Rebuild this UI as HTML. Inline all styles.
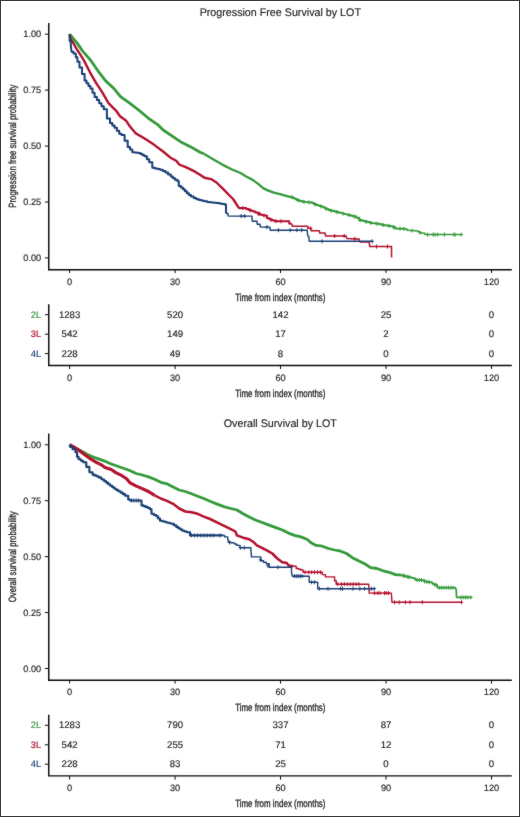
<!DOCTYPE html>
<html><head><meta charset="utf-8"><title>Survival by LOT</title>
<style>html,body{margin:0;padding:0;background:#fff;}svg{display:block;}text{font-family:"Liberation Sans",sans-serif;text-rendering:geometricPrecision;}svg{will-change:transform;}</style>
</head><body>
<svg width="520" height="817" viewBox="0 0 520 817">
<defs><filter id="soft" x="0" y="0" width="520" height="817" filterUnits="userSpaceOnUse" color-interpolation-filters="sRGB"><feConvolveMatrix order="3" kernelMatrix="1 1 1 1 24 1 1 1 1" divisor="32" edgeMode="duplicate"/></filter></defs>
<g filter="url(#soft)">
<rect x="0" y="0" width="520" height="817" fill="#fff"/>
<text x="280.3" y="16.4" font-size="11" text-anchor="middle" fill="#222" textLength="161.3" lengthAdjust="spacingAndGlyphs" stroke="#222" stroke-width="0.15">Progression Free Survival by LOT</text>
<path d="M48.75,23 V269.70 H511.8" fill="none" stroke="#0a0a0a" stroke-width="1.45"/>
<path d="M44.9,34.2 H48.6" stroke="#0a0a0a" stroke-width="1"/>
<text x="41.2" y="37.3" font-size="9.2" text-anchor="end" fill="#222"  stroke="#222" stroke-width="0.15">1.00</text>
<path d="M44.9,90.1 H48.6" stroke="#0a0a0a" stroke-width="1"/>
<text x="41.2" y="93.2" font-size="9.2" text-anchor="end" fill="#222"  stroke="#222" stroke-width="0.15">0.75</text>
<path d="M44.9,146.1 H48.6" stroke="#0a0a0a" stroke-width="1"/>
<text x="41.2" y="149.2" font-size="9.2" text-anchor="end" fill="#222"  stroke="#222" stroke-width="0.15">0.50</text>
<path d="M44.9,202.0 H48.6" stroke="#0a0a0a" stroke-width="1"/>
<text x="41.2" y="205.1" font-size="9.2" text-anchor="end" fill="#222"  stroke="#222" stroke-width="0.15">0.25</text>
<path d="M44.9,257.9 H48.6" stroke="#0a0a0a" stroke-width="1"/>
<text x="41.2" y="261.0" font-size="9.2" text-anchor="end" fill="#222"  stroke="#222" stroke-width="0.15">0.00</text>
<path d="M69.6,269.4 V273" stroke="#0a0a0a" stroke-width="1"/>
<text x="69.6" y="284.5" font-size="9.2" text-anchor="middle" fill="#222"  stroke="#222" stroke-width="0.15">0</text>
<path d="M175.1,269.4 V273" stroke="#0a0a0a" stroke-width="1"/>
<text x="175.1" y="284.5" font-size="9.2" text-anchor="middle" fill="#222"  stroke="#222" stroke-width="0.15">30</text>
<path d="M280.5,269.4 V273" stroke="#0a0a0a" stroke-width="1"/>
<text x="280.5" y="284.5" font-size="9.2" text-anchor="middle" fill="#222"  stroke="#222" stroke-width="0.15">60</text>
<path d="M386.0,269.4 V273" stroke="#0a0a0a" stroke-width="1"/>
<text x="386.0" y="284.5" font-size="9.2" text-anchor="middle" fill="#222"  stroke="#222" stroke-width="0.15">90</text>
<path d="M491.5,269.4 V273" stroke="#0a0a0a" stroke-width="1"/>
<text x="491.5" y="284.5" font-size="9.2" text-anchor="middle" fill="#222"  stroke="#222" stroke-width="0.15">120</text>
<text x="280.3" y="300.6" font-size="10.5" text-anchor="middle" fill="#222" textLength="90.3" lengthAdjust="spacingAndGlyphs" stroke="#222" stroke-width="0.3">Time from index (months)</text>
<text transform="translate(15.8,146.2) rotate(-90)" font-size="10.5" text-anchor="middle" fill="#222" stroke="#222" stroke-width="0.3" textLength="123" lengthAdjust="spacingAndGlyphs">Progression free survival probability</text>
<polyline points="69.6,34.2 72.8,38.0 77.4,43.4 82.0,50.3 86.6,55.7 91.2,61.0 97.7,70.5 105.4,80.6 113.1,87.7 120.8,96.9 130.0,103.3 139.2,110.5 148.5,118.3 157.7,124.6 163.1,130.0 172.3,136.2 181.5,142.3 190.8,146.9 200.0,152.3 203.8,153.8" fill="none" stroke="#349a3a" stroke-width="2.8" stroke-linejoin="round"/>
<polyline points="203.8,153.8 213.1,159.2 222.3,164.6 231.5,169.2 240.5,173.0 246.2,176.5 252.3,179.6 258.5,184.2 263.1,188.1 267.7,190.4 273.8,192.7 280.0,194.2 286.2,195.8 292.3,197.3 298.5,200.4 304.6,201.9" fill="none" stroke="#349a3a" stroke-width="2.3" stroke-linejoin="round"/>
<polyline points="304.6,201.9 310.5,202.5 312.5,202.5 312.5,203.3 314.5,203.3 314.5,204.2 316.5,204.2 316.5,205.0 318.4,205.0 318.4,205.6 320.4,205.6 320.4,206.3 322.3,206.3 322.3,206.9 324.4,206.9 324.4,207.9 326.4,207.9 326.4,209.0 328.5,209.0 328.5,210.0 330.5,210.0 330.5,210.5 332.6,210.5 332.6,211.0 334.6,211.0 334.6,211.5 336.7,211.5 336.7,212.0 338.7,212.0 338.7,212.6 340.8,212.6 340.8,213.1 342.8,213.1 342.8,213.6 344.9,213.6 344.9,214.1 346.9,214.1 346.9,214.6 349.0,214.6 349.0,215.1 351.0,215.1 351.0,215.7 353.1,215.7 353.1,216.2 356.2,216.2 356.2,217.7 359.2,217.7 359.2,220.0 361.3,220.0 361.3,220.5 363.3,220.5 363.3,221.0 365.4,221.0 365.4,221.5 367.4,221.5 367.4,222.0 369.5,222.0 369.5,222.6 371.5,222.6 371.5,223.1 373.6,223.1 373.6,223.3 375.6,223.3 375.6,223.6 377.7,223.6 377.7,223.8 379.7,223.8 379.7,224.3 381.8,224.3 381.8,224.7 383.8,224.7 383.8,225.2 386.3,225.2 386.3,225.5 388.7,225.5 388.7,225.9 391.2,225.9 391.2,226.2 393.4,226.2 393.4,227.3 395.6,227.3 395.6,228.5 405.1,228.8" fill="none" stroke="#349a3a" stroke-width="1.9" stroke-linejoin="round"/>
<polyline points="405.1,228.8 406.8,228.8 406.8,230.2 409.2,230.2 409.2,230.4 411.6,230.4 411.6,230.6 413.9,230.6 413.9,230.7 416.3,230.7 416.3,230.9 418.1,230.9 418.1,231.8 419.8,231.8 419.8,232.6 423.3,233.2 425.0,233.2 425.0,234.6 461.3,234.6" fill="none" stroke="#349a3a" stroke-width="1.5" stroke-linejoin="round"/>
<polyline points="69.6,34.2 70.5,38.8 73.5,43.4 76.6,48.8 80.5,54.9 84.3,61.1 87.4,67.2 90.0,72.3 96.2,83.1 102.3,92.3 108.5,103.1 116.2,110.8 120.0,116.2 126.2,120.8 129.2,125.4 135.4,133.1 144.6,138.5 153.8,144.6 163.1,151.5 170.5,157.7 176.2,160.8 179.2,164.5 186.9,167.7 195.0,171.7 200.4,175.1 204.4,177.8 211.1,179.1 216.5,182.5 223.3,189.2 230.0,196.0 233.1,199.0 237.7,206.2 239.2,208.1 243.8,208.1" fill="none" stroke="#b3102e" stroke-width="2.4" stroke-linejoin="round"/>
<polyline points="243.8,208.1 246.2,208.1 246.2,208.9 248.5,208.9 248.5,209.8 250.8,209.8 250.8,210.7 253.1,210.7 253.1,211.5 255.4,211.5 255.4,212.4 257.7,212.4 257.7,213.3 260.0,213.3 260.0,214.8 262.3,214.8 262.3,215.2 264.6,215.2 264.6,215.6 266.9,215.6 266.9,217.9 268.6,217.9 268.6,218.8 270.4,218.8 270.4,219.6 272.1,219.6 272.1,220.2 273.8,220.2 273.8,220.8 277.3,221.3 286.5,221.3 289.2,221.3 289.2,223.5 291.9,224.0" fill="none" stroke="#b3102e" stroke-width="2.0" stroke-linejoin="round"/>
<polyline points="291.9,224.0 292.4,226.3 306.8,226.3 307.8,226.3 307.8,228.3 310.7,228.3 311.2,230.7 319.3,230.7 319.8,233.1 325.1,233.1 325.6,236.0 346.2,236.0 346.9,238.5 356.2,238.9 359.2,238.9 359.2,240.0 360.0,242.0 369.2,242.0 369.7,246.6 391.5,246.6 391.6,257.4" fill="none" stroke="#b3102e" stroke-width="1.5" stroke-linejoin="round"/>
<polyline points="69.6,34.2 69.7,41.1 70.8,41.1 70.8,45.7 71.6,51.8 73.5,51.8 73.5,53.4 75.8,53.4 75.8,57.2 77.4,57.2 77.4,61.8 79.5,61.8 79.5,67.5 82.0,67.5 82.0,74.0 84.6,74.0 84.6,80.5 86.5,80.5 86.5,83.2 88.5,83.2 88.5,85.9 90.4,85.9 90.4,88.6 92.5,88.6 92.5,92.8 94.6,92.8 94.6,96.9 96.9,96.9 96.9,100.1 99.2,100.1 99.2,103.3 101.5,103.3 101.5,106.2 103.8,106.2 103.8,109.2 106.9,109.2 106.9,118.5 110.0,118.5 110.0,123.1 112.3,123.1 112.3,125.4 114.6,125.4 114.6,127.7 116.9,127.7 116.9,130.8 119.2,130.8 119.2,133.8 121.5,133.8 121.5,135.0 124.6,135.0 124.6,140.8 127.7,140.8 127.7,146.9 130.0,146.9 130.0,149.6 132.3,149.6 132.3,152.3 134.4,152.3 134.4,152.6 136.4,152.6 136.4,152.8 138.5,152.8 138.5,153.1 140.5,153.1 140.5,154.1 142.6,154.1 142.6,155.2 144.6,155.2 144.6,156.2 146.9,156.2 146.9,159.2 149.2,159.2 149.2,162.3 152.3,162.3 152.3,167.7 154.9,167.7 154.9,168.4 157.4,168.4 157.4,169.0 160.0,169.0 160.0,169.7 162.7,169.7 162.7,171.1 165.4,171.1 165.4,172.4 168.1,172.4 168.1,174.4 170.8,174.4 170.8,176.4 172.8,176.4 172.8,178.1 174.8,178.1 174.8,179.8 177.5,179.8 177.5,181.2 178.8,181.2 178.8,185.9 180.9,185.9 180.9,187.6 182.9,187.6 182.9,189.2 184.9,189.2 184.9,191.2 186.9,191.2 186.9,193.3 188.9,193.3 188.9,194.9 191.0,194.9 191.0,196.6 193.7,196.6 193.7,197.9 196.3,197.9 196.3,199.3 199.0,199.3 199.0,200.0 201.7,200.0 201.7,200.7 204.4,200.7 204.4,201.3 207.1,201.3 207.1,202.0 209.3,202.0 209.3,202.2 211.6,202.2 211.6,202.5 213.8,202.5 213.8,202.7 216.5,202.7 216.5,203.1 219.2,203.1 219.2,203.4 221.9,203.4 221.9,203.9 224.6,203.9 224.6,204.4 226.0,204.4 226.0,213.5" fill="none" stroke="#183f75" stroke-width="2.0" stroke-linejoin="round"/>
<polyline points="226.0,213.5 228.0,213.5 228.0,215.9 230.0,216.1 251.9,216.1 252.3,221.3 256.0,221.3 257.1,221.3 257.1,224.2 260.0,224.2 260.5,227.1 269.8,227.1 270.2,230.2 306.3,230.2 307.3,230.2 307.3,232.1 307.8,236.0 308.8,236.4 309.2,241.3 372.5,241.3" fill="none" stroke="#183f75" stroke-width="1.4" stroke-linejoin="round"/>
<path d="M292.0,195.2V199.2M290.2,197.2H293.8M298.0,198.2V202.2M296.2,200.2H299.8M304.0,199.8V203.8M302.2,201.8H305.8M309.0,200.3V204.3M307.2,202.3H310.8M315.0,202.4V206.4M313.2,204.4H316.8M321.0,204.5V208.5M319.2,206.5H322.8M326.0,206.8V210.8M324.2,208.8H327.8M331.0,208.6V212.6M329.2,210.6H332.8M337.0,210.1V214.1M335.2,212.1H338.8M343.0,211.6V215.6M341.2,213.6H344.8M349.0,213.1V217.1M347.2,215.1H350.8M354.0,214.6V218.6M352.2,216.6H355.8M360.0,218.2V222.2M358.2,220.2H361.8M366.0,219.7V223.7M364.2,221.7H367.8M371.0,221.0V225.0M369.2,223.0H372.8M377.0,221.7V225.7M375.2,223.7H378.8M383.0,223.0V227.0M381.2,225.0H384.8M389.0,223.9V227.9M387.2,225.9H390.8M394.0,225.7V229.7M392.2,227.7H395.8M400.0,226.6V230.6M398.2,228.6H401.8M404.0,226.8V230.8M402.2,228.8H405.8M412.1,228.6V232.6M410.3,230.6H413.9M420.2,230.7V234.7M418.4,232.7H422.0M427.6,232.6V236.6M425.8,234.6H429.4M433.0,232.6V236.6M431.2,234.6H434.8M435.0,232.6V236.6M433.2,234.6H436.8M437.7,232.6V236.6M435.9,234.6H439.5M444.4,232.6V236.6M442.6,234.6H446.2M453.8,232.6V236.6M452.0,234.6H455.6M455.2,232.6V236.6M453.4,234.6H457.0M461.2,232.6V236.6M459.4,234.6H463.0" fill="none" stroke="#349a3a" stroke-width="1.0"/>
<path d="M243.0,206.1V210.1M241.2,208.1H244.8M250.0,208.4V212.4M248.2,210.4H251.8M258.5,211.8V215.8M256.7,213.8H260.3M264.0,213.5V217.5M262.2,215.5H265.8M271.0,217.8V221.8M269.2,219.8H272.8M275.8,219.1V223.1M274.0,221.1H277.6M281.0,219.3V223.3M279.2,221.3H282.8M310.6,226.3V230.3M308.8,228.3H312.4M334.6,234.0V238.0M332.8,236.0H336.4M344.2,234.0V238.0M342.4,236.0H346.0M354.8,236.8V240.8M353.0,238.8H356.6M376.5,244.6V248.6M374.7,246.6H378.3M387.5,244.6V248.6M385.7,246.6H389.3" fill="none" stroke="#b3102e" stroke-width="1.0"/>
<path d="M241.2,214.1V218.1M239.4,216.1H243.0M244.6,214.1V218.1M242.8,216.1H246.4M266.9,225.1V229.1M265.1,227.1H268.7M278.4,228.2V232.2M276.6,230.2H280.2M290.2,228.2V232.2M288.4,230.2H292.0M296.9,228.2V232.2M295.1,230.2H298.7M301.7,228.2V232.2M299.9,230.2H303.5M322.1,239.3V243.3M320.3,241.3H323.9M372.1,239.3V243.3M370.3,241.3H373.9" fill="none" stroke="#183f75" stroke-width="1.0"/>
<path d="M48.75,304.2 V365.45 H511.8" fill="none" stroke="#0a0a0a" stroke-width="1.45"/>
<path d="M44.9,314.7 H48.6" stroke="#0a0a0a" stroke-width="1"/>
<text x="41.2" y="317.7" font-size="9.4" text-anchor="end" fill="#349a3a"  stroke="#349a3a" stroke-width="0.15">2L</text>
<text x="69.6" y="317.6" font-size="9.6" text-anchor="middle" fill="#222"  stroke="#222" stroke-width="0.15">1283</text>
<text x="175.1" y="317.6" font-size="9.6" text-anchor="middle" fill="#222"  stroke="#222" stroke-width="0.15">520</text>
<text x="280.5" y="317.6" font-size="9.6" text-anchor="middle" fill="#222"  stroke="#222" stroke-width="0.15">142</text>
<text x="386.0" y="317.6" font-size="9.6" text-anchor="middle" fill="#222"  stroke="#222" stroke-width="0.15">25</text>
<text x="491.5" y="317.6" font-size="9.6" text-anchor="middle" fill="#222"  stroke="#222" stroke-width="0.15">0</text>
<path d="M44.9,334.2 H48.6" stroke="#0a0a0a" stroke-width="1"/>
<text x="41.2" y="337.2" font-size="9.4" text-anchor="end" fill="#b3102e"  stroke="#b3102e" stroke-width="0.15">3L</text>
<text x="69.6" y="337.1" font-size="9.6" text-anchor="middle" fill="#222"  stroke="#222" stroke-width="0.15">542</text>
<text x="175.1" y="337.1" font-size="9.6" text-anchor="middle" fill="#222"  stroke="#222" stroke-width="0.15">149</text>
<text x="280.5" y="337.1" font-size="9.6" text-anchor="middle" fill="#222"  stroke="#222" stroke-width="0.15">17</text>
<text x="386.0" y="337.1" font-size="9.6" text-anchor="middle" fill="#222"  stroke="#222" stroke-width="0.15">2</text>
<text x="491.5" y="337.1" font-size="9.6" text-anchor="middle" fill="#222"  stroke="#222" stroke-width="0.15">0</text>
<path d="M44.9,353.6 H48.6" stroke="#0a0a0a" stroke-width="1"/>
<text x="41.2" y="356.6" font-size="9.4" text-anchor="end" fill="#183f75"  stroke="#183f75" stroke-width="0.15">4L</text>
<text x="69.6" y="356.5" font-size="9.6" text-anchor="middle" fill="#222"  stroke="#222" stroke-width="0.15">228</text>
<text x="175.1" y="356.5" font-size="9.6" text-anchor="middle" fill="#222"  stroke="#222" stroke-width="0.15">49</text>
<text x="280.5" y="356.5" font-size="9.6" text-anchor="middle" fill="#222"  stroke="#222" stroke-width="0.15">8</text>
<text x="386.0" y="356.5" font-size="9.6" text-anchor="middle" fill="#222"  stroke="#222" stroke-width="0.15">0</text>
<text x="491.5" y="356.5" font-size="9.6" text-anchor="middle" fill="#222"  stroke="#222" stroke-width="0.15">0</text>
<path d="M69.6,365.5 V369" stroke="#0a0a0a" stroke-width="1"/>
<text x="69.6" y="380.7" font-size="9.2" text-anchor="middle" fill="#222"  stroke="#222" stroke-width="0.15">0</text>
<path d="M175.1,365.5 V369" stroke="#0a0a0a" stroke-width="1"/>
<text x="175.1" y="380.7" font-size="9.2" text-anchor="middle" fill="#222"  stroke="#222" stroke-width="0.15">30</text>
<path d="M280.5,365.5 V369" stroke="#0a0a0a" stroke-width="1"/>
<text x="280.5" y="380.7" font-size="9.2" text-anchor="middle" fill="#222"  stroke="#222" stroke-width="0.15">60</text>
<path d="M386.0,365.5 V369" stroke="#0a0a0a" stroke-width="1"/>
<text x="386.0" y="380.7" font-size="9.2" text-anchor="middle" fill="#222"  stroke="#222" stroke-width="0.15">90</text>
<path d="M491.5,365.5 V369" stroke="#0a0a0a" stroke-width="1"/>
<text x="491.5" y="380.7" font-size="9.2" text-anchor="middle" fill="#222"  stroke="#222" stroke-width="0.15">120</text>
<text x="280.3" y="396.7" font-size="10.5" text-anchor="middle" fill="#222" textLength="90.3" lengthAdjust="spacingAndGlyphs" stroke="#222" stroke-width="0.3">Time from index (months)</text>
<text x="280.3" y="427.0" font-size="11" text-anchor="middle" fill="#222" textLength="113" lengthAdjust="spacingAndGlyphs" stroke="#222" stroke-width="0.15">Overall Survival by LOT</text>
<path d="M48.75,433.6 V680.25 H511.8" fill="none" stroke="#0a0a0a" stroke-width="1.45"/>
<path d="M44.9,444.8 H48.6" stroke="#0a0a0a" stroke-width="1"/>
<text x="41.2" y="447.9" font-size="9.2" text-anchor="end" fill="#222"  stroke="#222" stroke-width="0.15">1.00</text>
<path d="M44.9,500.7 H48.6" stroke="#0a0a0a" stroke-width="1"/>
<text x="41.2" y="503.8" font-size="9.2" text-anchor="end" fill="#222"  stroke="#222" stroke-width="0.15">0.75</text>
<path d="M44.9,556.7 H48.6" stroke="#0a0a0a" stroke-width="1"/>
<text x="41.2" y="559.8" font-size="9.2" text-anchor="end" fill="#222"  stroke="#222" stroke-width="0.15">0.50</text>
<path d="M44.9,612.6 H48.6" stroke="#0a0a0a" stroke-width="1"/>
<text x="41.2" y="615.7" font-size="9.2" text-anchor="end" fill="#222"  stroke="#222" stroke-width="0.15">0.25</text>
<path d="M44.9,668.5 H48.6" stroke="#0a0a0a" stroke-width="1"/>
<text x="41.2" y="671.6" font-size="9.2" text-anchor="end" fill="#222"  stroke="#222" stroke-width="0.15">0.00</text>
<path d="M69.6,680.0 V683.6" stroke="#0a0a0a" stroke-width="1"/>
<text x="69.6" y="695.1" font-size="9.2" text-anchor="middle" fill="#222"  stroke="#222" stroke-width="0.15">0</text>
<path d="M175.1,680.0 V683.6" stroke="#0a0a0a" stroke-width="1"/>
<text x="175.1" y="695.1" font-size="9.2" text-anchor="middle" fill="#222"  stroke="#222" stroke-width="0.15">30</text>
<path d="M280.5,680.0 V683.6" stroke="#0a0a0a" stroke-width="1"/>
<text x="280.5" y="695.1" font-size="9.2" text-anchor="middle" fill="#222"  stroke="#222" stroke-width="0.15">60</text>
<path d="M386.0,680.0 V683.6" stroke="#0a0a0a" stroke-width="1"/>
<text x="386.0" y="695.1" font-size="9.2" text-anchor="middle" fill="#222"  stroke="#222" stroke-width="0.15">90</text>
<path d="M491.5,680.0 V683.6" stroke="#0a0a0a" stroke-width="1"/>
<text x="491.5" y="695.1" font-size="9.2" text-anchor="middle" fill="#222"  stroke="#222" stroke-width="0.15">120</text>
<text x="280.3" y="711.2" font-size="10.5" text-anchor="middle" fill="#222" textLength="90.3" lengthAdjust="spacingAndGlyphs" stroke="#222" stroke-width="0.3">Time from index (months)</text>
<text transform="translate(15.8,556.8) rotate(-90)" font-size="10.5" text-anchor="middle" fill="#222" stroke="#222" stroke-width="0.3" textLength="91" lengthAdjust="spacingAndGlyphs">Overall survival probability</text>
<polyline points="69.6,444.7 79.4,450.0 87.1,454.2 94.8,457.7 104.0,460.8 111.2,464.0 120.5,467.2 129.7,470.5 136.2,473.5 142.3,475.0 148.5,476.9 154.6,479.2 160.8,482.3 166.9,483.8 173.1,486.9 179.2,490.0 185.4,491.5 191.5,493.8 197.7,496.2 203.8,498.5 210.0,501.2 218.5,504.6 224.6,506.9 230.8,508.5 236.9,510.0 243.1,513.8 249.2,516.9 255.4,520.0 261.5,522.3 267.7,524.6 273.8,526.9 282.3,530.0 288.5,533.1 294.6,535.4 300.8,536.9 306.9,539.2 311.5,543.1 316.2,545.4 322.3,546.2 328.5,548.5 334.6,550.0 340.8,551.2 346.5,553.5 352.3,557.7 358.5,560.8 364.6,563.8 370.8,567.7 376.9,568.5 383.1,570.8 389.2,572.3 395.4,574.6 401.5,575.2" fill="none" stroke="#349a3a" stroke-width="2.8" stroke-linejoin="round"/>
<polyline points="401.5,575.2 403.6,575.2 403.6,575.8 405.6,575.8 405.6,576.3 407.7,576.3 407.7,576.9 409.7,576.9 409.7,577.4 411.8,577.4 411.8,577.8 413.8,577.8 413.8,578.3 415.4,578.3 415.4,580.0 421.5,580.0 424.6,580.0 424.6,581.5 426.7,581.5 426.7,581.8 428.7,581.8 428.7,582.0 430.8,582.0 430.8,582.3 432.3,582.3 432.3,583.8 434.6,583.8 434.6,584.6 436.9,584.6 436.9,585.4 437.7,587.7 455.4,587.7 456.2,590.0 456.6,597.4 471.5,597.4" fill="none" stroke="#349a3a" stroke-width="1.7" stroke-linejoin="round"/>
<polyline points="69.6,444.7 76.3,448.5 82.5,453.1 87.1,456.5 91.7,459.6 96.3,462.3 100.9,464.6 105.0,467.5 111.2,469.5 115.8,472.6 122.0,475.7 126.6,478.8 129.7,482.6 135.8,485.9 142.2,488.6 148.5,491.5 154.6,495.4" fill="none" stroke="#b3102e" stroke-width="3.1" stroke-linejoin="round"/>
<polyline points="154.6,495.4 160.8,498.5 166.9,500.8 173.1,503.8 179.2,508.5 185.4,511.5 191.5,512.3 197.7,513.8 203.8,516.6 210.0,519.0 218.5,523.1 224.6,526.2 230.8,529.2 235.4,531.5 236.9,535.4 243.1,537.7 249.2,539.2 253.8,542.3 256.9,545.4 261.5,547.7 267.7,550.8 272.3,553.5 277.3,558.5 282.3,562.3 286.9,563.1 288.5,565.4 293.1,566.2" fill="none" stroke="#b3102e" stroke-width="2.5" stroke-linejoin="round"/>
<polyline points="293.1,566.2 296.2,566.2 296.2,568.5 298.5,568.5 298.5,569.2 300.8,569.2 300.8,570.0 303.1,570.0 303.1,572.3 320.8,572.3 322.3,572.3 322.3,574.6 325.4,574.6 325.4,576.9 333.1,576.9 334.6,576.9 334.6,580.8 336.2,580.8 336.2,584.2 368.7,584.2 369.2,593.1 391.3,593.1 392.0,602.3 461.5,602.3" fill="none" stroke="#b3102e" stroke-width="1.4" stroke-linejoin="round"/>
<polyline points="69.6,444.7 70.2,446.9 72.5,446.9 72.5,449.2 75.5,449.2 75.5,452.3 77.1,452.3 77.1,456.9 78.6,456.9 78.6,459.2 80.9,459.2 80.9,460.8 83.2,460.8 83.2,462.3 86.3,462.3 86.3,466.9 89.4,466.9 89.4,472.3 92.5,472.3 92.5,474.6 94.4,474.6 94.4,475.4 96.3,475.4 96.3,476.2 98.6,476.2 98.6,477.4 100.9,477.4 100.9,478.5 102.0,478.5 102.0,479.5 104.1,479.5 104.1,481.1 106.1,481.1 106.1,482.6 108.2,482.6 108.2,484.2 110.2,484.2 110.2,485.7 112.3,485.7 112.3,487.3 114.3,487.3 114.3,488.8 116.4,488.8 116.4,490.1 118.4,490.1 118.4,491.3 120.5,491.3 120.5,492.6 122.8,492.6 122.8,494.1 125.1,494.1 125.1,495.7 128.2,495.7 128.2,499.5 130.0,499.5 130.0,500.5 140.0,500.5 141.5,500.5 141.5,505.4 143.4,505.4 143.4,506.1 145.4,506.1 145.4,506.9 147.7,506.9 147.7,508.0 150.0,508.0 150.0,509.2 151.5,509.2 151.5,513.8 153.8,513.8 153.8,515.0 156.2,515.0 156.2,516.2 158.1,516.2 158.1,518.5 160.0,518.5 160.0,520.8 162.7,520.8 162.7,521.5 165.4,521.5 165.4,522.3 167.4,522.3 167.4,522.8 169.5,522.8 169.5,523.3 171.5,523.3 171.5,523.8 173.8,523.8 173.8,525.3 176.2,525.3 176.2,526.9 178.2,526.9 178.2,528.2 180.3,528.2 180.3,529.5 182.3,529.5 182.3,530.8 184.6,530.8 184.6,531.5 186.9,531.5 186.9,532.3 190.0,532.3 190.0,535.4 223.1,535.4" fill="none" stroke="#183f75" stroke-width="2.1" stroke-linejoin="round"/>
<polyline points="223.1,535.4 224.6,535.4 224.6,536.9 227.7,536.9 227.7,538.5 228.5,542.3 230.8,542.3 230.8,542.7 233.1,542.7 233.1,543.1 235.0,543.1 235.0,544.2 236.9,544.2 236.9,545.4 240.0,545.4 240.0,547.7 250.8,547.7 251.5,556.9 259.2,556.9 260.8,556.9 260.8,560.8 263.5,560.8 263.5,562.3 266.2,562.3 266.2,563.8 269.2,563.8 269.2,567.3 290.0,567.3 291.5,567.3 291.5,572.3 292.3,576.2 307.7,576.2 309.2,576.2 309.2,582.3 316.2,582.3 317.7,582.3 317.7,588.7 374.6,588.7" fill="none" stroke="#183f75" stroke-width="1.4" stroke-linejoin="round"/>
<path d="M403.0,573.6V577.6M401.2,575.6H404.8M404.6,574.1V578.1M402.8,576.1H406.4M407.7,574.9V578.9M405.9,576.9H409.5M409.2,575.2V579.2M407.4,577.2H411.0M417.0,578.0V582.0M415.2,580.0H418.8M419.2,578.0V582.0M417.4,580.0H421.0M421.5,578.0V582.0M419.7,580.0H423.3M424.6,579.5V583.5M422.8,581.5H426.4M427.0,579.8V583.8M425.2,581.8H428.8M429.2,580.1V584.1M427.4,582.1H431.0M434.6,582.6V586.6M432.8,584.6H436.4M436.2,583.2V587.2M434.4,585.2H438.0M439.2,585.7V589.7M437.4,587.7H441.0M441.5,585.7V589.7M439.7,587.7H443.3M443.8,585.7V589.7M442.0,587.7H445.6M446.2,585.7V589.7M444.4,587.7H448.0M448.5,585.7V589.7M446.7,587.7H450.3M450.8,585.7V589.7M449.0,587.7H452.6M453.1,585.7V589.7M451.3,587.7H454.9M460.8,595.4V599.4M459.0,597.4H462.6M463.0,595.4V599.4M461.2,597.4H464.8M465.4,595.4V599.4M463.6,597.4H467.2M467.7,595.4V599.4M465.9,597.4H469.5M470.8,595.4V599.4M469.0,597.4H472.6" fill="none" stroke="#349a3a" stroke-width="1.0"/>
<path d="M305.0,570.3V574.3M303.2,572.3H306.8M308.8,570.3V574.3M307.0,572.3H310.6M311.7,570.3V574.3M309.9,572.3H313.5M314.6,570.3V574.3M312.8,572.3H316.4M317.5,570.3V574.3M315.7,572.3H319.3M320.4,570.3V574.3M318.6,572.3H322.2M337.7,582.2V586.2M335.9,584.2H339.5M341.5,582.2V586.2M339.7,584.2H343.3M344.4,582.2V586.2M342.6,584.2H346.2M347.3,582.2V586.2M345.5,584.2H349.1M350.2,582.2V586.2M348.4,584.2H352.0M353.0,582.2V586.2M351.2,584.2H354.8M356.0,582.2V586.2M354.2,584.2H357.8M358.8,582.2V586.2M357.0,584.2H360.6M374.6,591.1V595.1M372.8,593.1H376.4M377.7,591.1V595.1M375.9,593.1H379.5M380.0,591.1V595.1M378.2,593.1H381.8M384.6,591.1V595.1M382.8,593.1H386.4M386.2,591.1V595.1M384.4,593.1H388.0M388.5,591.1V595.1M386.7,593.1H390.3M394.6,600.3V604.3M392.8,602.3H396.4M399.2,600.3V604.3M397.4,602.3H401.0M405.4,600.3V604.3M403.6,602.3H407.2M410.0,600.3V604.3M408.2,602.3H411.8M422.3,600.3V604.3M420.5,602.3H424.1M461.5,600.3V604.3M459.7,602.3H463.3" fill="none" stroke="#b3102e" stroke-width="1.0"/>
<path d="M131.5,498.5V502.5M129.7,500.5H133.3M133.8,498.5V502.5M132.0,500.5H135.6M136.2,498.5V502.5M134.4,500.5H138.0M138.5,498.5V502.5M136.7,500.5H140.3M191.5,533.4V537.4M189.7,535.4H193.3M194.6,533.4V537.4M192.8,535.4H196.4M197.7,533.4V537.4M195.9,535.4H199.5M200.8,533.4V537.4M199.0,535.4H202.6M203.8,533.4V537.4M202.0,535.4H205.6M206.9,533.4V537.4M205.1,535.4H208.7M210.8,533.4V537.4M209.0,535.4H212.6M213.8,533.4V537.4M212.0,535.4H215.6M220.0,533.4V537.4M218.2,535.4H221.8M229.6,540.5V544.5M227.8,542.5H231.4M240.4,545.7V549.7M238.6,547.7H242.2M244.2,545.7V549.7M242.4,547.7H246.0M260.4,557.8V561.8M258.6,559.8H262.2M268.0,563.9V567.9M266.2,565.9H269.8M278.0,565.3V569.3M276.2,567.3H279.8M294.4,574.2V578.2M292.6,576.2H296.2M296.3,574.2V578.2M294.5,576.2H298.1M298.3,574.2V578.2M296.5,576.2H300.1M300.2,574.2V578.2M298.4,576.2H302.0M302.1,574.2V578.2M300.3,576.2H303.9M311.7,580.3V584.3M309.9,582.3H313.5M314.6,580.3V584.3M312.8,582.3H316.4M319.4,586.7V590.7M317.6,588.7H321.2M328.0,586.7V590.7M326.2,588.7H329.8M340.6,586.7V590.7M338.8,588.7H342.4M342.5,586.7V590.7M340.7,588.7H344.3M353.0,586.7V590.7M351.2,588.7H354.8M359.8,586.7V590.7M358.0,588.7H361.6M364.6,586.7V590.7M362.8,588.7H366.4M371.3,586.7V590.7M369.5,588.7H373.1M374.2,586.7V590.7M372.4,588.7H376.0" fill="none" stroke="#183f75" stroke-width="1.0"/>
<path d="M48.75,714.8 V775.85 H511.8" fill="none" stroke="#0a0a0a" stroke-width="1.45"/>
<path d="M44.9,725.3 H48.6" stroke="#0a0a0a" stroke-width="1"/>
<text x="41.2" y="728.3" font-size="9.4" text-anchor="end" fill="#349a3a"  stroke="#349a3a" stroke-width="0.15">2L</text>
<text x="69.6" y="728.2" font-size="9.6" text-anchor="middle" fill="#222"  stroke="#222" stroke-width="0.15">1283</text>
<text x="175.1" y="728.2" font-size="9.6" text-anchor="middle" fill="#222"  stroke="#222" stroke-width="0.15">790</text>
<text x="280.5" y="728.2" font-size="9.6" text-anchor="middle" fill="#222"  stroke="#222" stroke-width="0.15">337</text>
<text x="386.0" y="728.2" font-size="9.6" text-anchor="middle" fill="#222"  stroke="#222" stroke-width="0.15">87</text>
<text x="491.5" y="728.2" font-size="9.6" text-anchor="middle" fill="#222"  stroke="#222" stroke-width="0.15">0</text>
<path d="M44.9,744.8 H48.6" stroke="#0a0a0a" stroke-width="1"/>
<text x="41.2" y="747.8" font-size="9.4" text-anchor="end" fill="#b3102e"  stroke="#b3102e" stroke-width="0.15">3L</text>
<text x="69.6" y="747.7" font-size="9.6" text-anchor="middle" fill="#222"  stroke="#222" stroke-width="0.15">542</text>
<text x="175.1" y="747.7" font-size="9.6" text-anchor="middle" fill="#222"  stroke="#222" stroke-width="0.15">255</text>
<text x="280.5" y="747.7" font-size="9.6" text-anchor="middle" fill="#222"  stroke="#222" stroke-width="0.15">71</text>
<text x="386.0" y="747.7" font-size="9.6" text-anchor="middle" fill="#222"  stroke="#222" stroke-width="0.15">12</text>
<text x="491.5" y="747.7" font-size="9.6" text-anchor="middle" fill="#222"  stroke="#222" stroke-width="0.15">0</text>
<path d="M44.9,764.2 H48.6" stroke="#0a0a0a" stroke-width="1"/>
<text x="41.2" y="767.2" font-size="9.4" text-anchor="end" fill="#183f75"  stroke="#183f75" stroke-width="0.15">4L</text>
<text x="69.6" y="767.1" font-size="9.6" text-anchor="middle" fill="#222"  stroke="#222" stroke-width="0.15">228</text>
<text x="175.1" y="767.1" font-size="9.6" text-anchor="middle" fill="#222"  stroke="#222" stroke-width="0.15">83</text>
<text x="280.5" y="767.1" font-size="9.6" text-anchor="middle" fill="#222"  stroke="#222" stroke-width="0.15">25</text>
<text x="386.0" y="767.1" font-size="9.6" text-anchor="middle" fill="#222"  stroke="#222" stroke-width="0.15">0</text>
<text x="491.5" y="767.1" font-size="9.6" text-anchor="middle" fill="#222"  stroke="#222" stroke-width="0.15">0</text>
<path d="M69.6,776.1 V779.6" stroke="#0a0a0a" stroke-width="1"/>
<text x="69.6" y="791.3" font-size="9.2" text-anchor="middle" fill="#222"  stroke="#222" stroke-width="0.15">0</text>
<path d="M175.1,776.1 V779.6" stroke="#0a0a0a" stroke-width="1"/>
<text x="175.1" y="791.3" font-size="9.2" text-anchor="middle" fill="#222"  stroke="#222" stroke-width="0.15">30</text>
<path d="M280.5,776.1 V779.6" stroke="#0a0a0a" stroke-width="1"/>
<text x="280.5" y="791.3" font-size="9.2" text-anchor="middle" fill="#222"  stroke="#222" stroke-width="0.15">60</text>
<path d="M386.0,776.1 V779.6" stroke="#0a0a0a" stroke-width="1"/>
<text x="386.0" y="791.3" font-size="9.2" text-anchor="middle" fill="#222"  stroke="#222" stroke-width="0.15">90</text>
<path d="M491.5,776.1 V779.6" stroke="#0a0a0a" stroke-width="1"/>
<text x="491.5" y="791.3" font-size="9.2" text-anchor="middle" fill="#222"  stroke="#222" stroke-width="0.15">120</text>
<text x="280.3" y="807.3" font-size="10.5" text-anchor="middle" fill="#222" textLength="90.3" lengthAdjust="spacingAndGlyphs" stroke="#222" stroke-width="0.3">Time from index (months)</text>
</g>
<rect x="0.5" y="0.5" width="519" height="816" fill="none" stroke="#3a3a3a" stroke-width="1"/>
</svg>
</body></html>
